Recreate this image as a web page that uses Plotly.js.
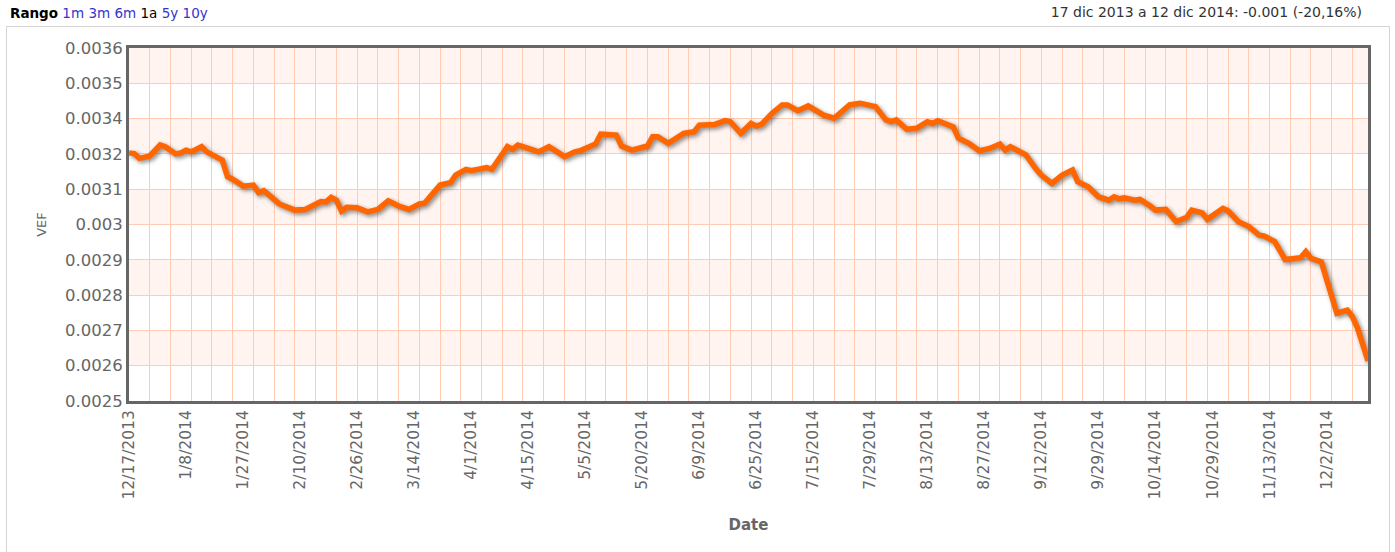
<!DOCTYPE html>
<html>
<head>
<meta charset="utf-8">
<script src="https://cdn.plot.ly/plotly-3.0.1.min.js"></script>
<style>
  html, body { margin: 0; padding: 0; background: #ffffff; }
  body { width: 1395px; height: 552px; position: relative; overflow: hidden; font-family: "DejaVu Sans", Verdana, sans-serif; }
  #frame { position: absolute; left: 6px; top: 26px; width: 1384px; height: 560px; border: 1px solid #d4d4d4; box-sizing: border-box; }
  #hdrL { position: absolute; left: 10px; top: 5px; font-size: 13.5px; color: #000; white-space: nowrap; }
  #hdrL b { font-weight: bold; }
  #hdrL .lk { color: #3434d0; }
  #hdrR { position: absolute; right: 33px; top: 4px; font-size: 14px; color: #333; white-space: nowrap; }
  #chart { position: absolute; left: 0; top: 0; width: 1395px; height: 552px; }
  .js-line { filter: drop-shadow(2px 2px 2px rgba(0,0,0,0.45)); }
</style>
</head>
<body>
<div id="frame"></div>
<div id="chart"></div>
<div id="hdrL"><b>Rango</b> <span class="lk">1m</span> <span class="lk">3m</span> <span class="lk">6m</span> 1a <span class="lk">5y</span> <span class="lk">10y</span></div>
<div id="hdrR">17 dic 2013 a 12 dic 2014: -0.001 (-20,16%)</div>
<script>
// Trading-day index of each reading (category positions on the x axis)
const dayIndex = [0,1,2,4,6,7,9,10,11,12,14,15,18,19,20,22,24,25,26,29,32,34,37,38,39,40,41,42,44,46,48,50,52,54,56,57,60,62,63,65,66,69,70,73,74,75,77,79,81,84,86,87,90,91,94,95,97,100,101,102,104,107,109,110,113,115,116,118,120,121,122,124,126,127,129,131,134,136,139,141,144,146,147,148,150,152,154,155,156,158,159,160,162,164,166,168,169,170,173,175,176,178,180,182,183,185,187,189,190,191,192,194,195,197,198,200,202,204,205,207,208,211,212,214,216,218,219,221,223,226,227,228,230,233,234,235,236,237,239];

// VEF values
const vefValues = [0.003254,0.003252,0.003238,0.003245,0.003277,0.003272,0.003251,0.003254,0.003262,0.003257,0.003272,0.003257,0.003233,0.003184,0.003177,0.003157,0.003160,0.003138,0.003144,0.003105,0.003087,0.003089,0.003112,0.003111,0.003124,0.003116,0.003084,0.003095,0.003094,0.003082,0.003089,0.003114,0.003099,0.003089,0.003105,0.003107,0.003160,0.003167,0.003189,0.003206,0.003202,0.003211,0.003206,0.003272,0.003264,0.003277,0.003267,0.003257,0.003272,0.003243,0.003257,0.003260,0.003280,0.003309,0.003306,0.003274,0.003262,0.003274,0.003301,0.003301,0.003282,0.003311,0.003316,0.003335,0.003337,0.003348,0.003345,0.003311,0.003340,0.003332,0.003337,0.003369,0.003394,0.003394,0.003377,0.003391,0.003364,0.003355,0.003394,0.003399,0.003389,0.003350,0.003345,0.003350,0.003323,0.003326,0.003345,0.003340,0.003348,0.003335,0.003330,0.003297,0.003282,0.003260,0.003267,0.003280,0.003262,0.003272,0.003248,0.003206,0.003189,0.003165,0.003189,0.003204,0.003170,0.003155,0.003126,0.003116,0.003126,0.003120,0.003123,0.003116,0.003118,0.003099,0.003087,0.003089,0.003053,0.003066,0.003087,0.003079,0.003060,0.003092,0.003085,0.003053,0.003039,0.003014,0.003011,0.002995,0.002943,0.002948,0.002966,0.002946,0.002936,0.002786,0.002790,0.002795,0.002776,0.002742,0.002647];

// X tick labels (every 11th trading day)
const xTickIndex = [0,11,22,33,44,55,66,77,88,99,110,121,132,143,154,165,176,187,198,209,220,231];
const xTickLabels = ["12/17/2013","1/8/2014","1/27/2014","2/10/2014","2/26/2014","3/14/2014","4/1/2014","4/15/2014","5/5/2014","5/20/2014","6/9/2014","6/25/2014","7/15/2014","7/29/2014","8/13/2014","8/27/2014","9/12/2014","9/29/2014","10/14/2014","10/29/2014","11/13/2014","12/2/2014"];

// Y axis: ten equal steps, labels as printed on the original
const yTickLabels = ["0.0025","0.0026","0.0027","0.0028","0.0029","0.003","0.0031","0.0032","0.0034","0.0035","0.0036"];
const yMin = 0.00253;
const yStep = 0.000103;
const lastIndex = 239;
const gridEvery = 4;

const yTickVals = yTickLabels.map((_, k) => yMin + k * yStep);
const yMax = yTickVals[yTickVals.length - 1];

const gridColor = '#ffcbb2';
const shapes = [];
for (let k = 0; k < yTickVals.length - 1; k++) {
  if (k % 2 === 1) {
    shapes.push({
      type: 'rect', layer: 'below', xref: 'paper', yref: 'y',
      x0: 0, x1: 1, y0: yTickVals[k], y1: yTickVals[k + 1],
      fillcolor: 'rgb(255,244,240)', line: { width: 0 }
    });
  }
}

const trace = {
  type: 'scatter', mode: 'lines',
  x: dayIndex, y: vefValues,
  line: { color: '#ff6600', width: 5.5, shape: 'linear' },
  hoverinfo: 'skip', showlegend: false
};

const fam = 'DejaVu Sans, Verdana, sans-serif';

const layout = {
  width: 1395, height: 552,
  margin: { l: 129, r: 27, t: 48, b: 151, pad: 0 },
  paper_bgcolor: 'rgba(0,0,0,0)',
  plot_bgcolor: '#ffffff',
  showlegend: false,
  shapes: shapes,
  xaxis: {
    range: [0, lastIndex], tickmode: 'array', tickvals: xTickIndex, ticktext: xTickLabels,
    tickangle: -90, showgrid: false, zeroline: false,
    ticks: 'outside', ticklen: 0, tickcolor: 'rgba(0,0,0,0)',
    minor: { tickmode: 'linear', tick0: 0, dtick: gridEvery, ticks: 'inside', ticklen: 0, tickcolor: 'rgba(0,0,0,0)', showgrid: true, gridcolor: gridColor, gridwidth: 1 },
    showline: true, mirror: true, linecolor: '#666666', linewidth: 3,
    tickfont: { family: fam, size: 15.5, color: '#666666' },
    title: { text: 'Date', font: { family: fam, size: 15, color: '#666666', weight: 'bold' }, standoff: 21 },
    automargin: false, fixedrange: true
  },
  yaxis: {
    range: [yMin, yMax], tickmode: 'array', tickvals: yTickVals, ticktext: yTickLabels,
    showgrid: true, gridcolor: gridColor, gridwidth: 1, zeroline: false, ticks: '',
    showline: true, mirror: true, linecolor: '#666666', linewidth: 3,
    tickfont: { family: fam, size: 16.5, color: '#666666' },
    title: { text: 'VEF', font: { family: fam, size: 13, color: '#666666' }, standoff: 16 },
    automargin: false, fixedrange: true
  }
};

Plotly.newPlot('chart', [trace], layout, { staticPlot: true, displayModeBar: false });
</script>
</body>
</html>
